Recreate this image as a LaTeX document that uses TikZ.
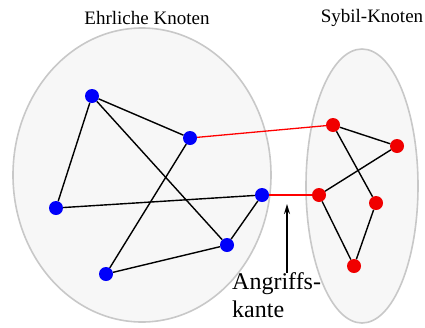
\documentclass[tikz,border=0pt]{standalone}
\usepackage{fontspec}
\setmainfont{Liberation Serif}
\usetikzlibrary{arrows.meta}
\definecolor{ringgray}{RGB}{200,200,200}
\definecolor{fillgray}{RGB}{247,247,247}
\definecolor{hblue}{RGB}{0,0,250}
\definecolor{sred}{RGB}{240,0,0}
\tikzset{
  group/.style={draw=ringgray, line width=1.6pt, fill=fillgray},
  honest/.style={circle, fill=hblue, inner sep=0pt, minimum size=14pt},
  sybil/.style={circle, fill=sred, inner sep=0pt, minimum size=14pt},
  edge/.style={black, line width=1.4pt},
  attack/.style={red, line width=1.3pt},
  lbl/.style={font=\fontsize{19}{22}\selectfont, inner sep=0pt},
}
\begin{document}
\begin{tikzpicture}[x=1pt, y=-1pt]
\useasboundingbox (0,0) rectangle (425,327);
\draw[group] (142,175) ellipse [x radius=129, y radius=147];
\draw[group] (362,186) ellipse [x radius=56, y radius=137];
\node[lbl] (tl) at (147,18) {Ehrliche Knoten};
\node[lbl] (tr) at (372,18) {Sybil-Knoten};
\node[honest] (b1) at (92,96) {};
\node[honest] (b2) at (190,138) {};
\node[honest] (b3) at (56,208) {};
\node[honest] (b4) at (262,195) {};
\node[honest] (b5) at (227,245) {};
\node[honest] (b6) at (106,274) {};
\node[sybil] (r1) at (333,125) {};
\node[sybil] (r2) at (397,146) {};
\node[sybil] (r3) at (319,195) {};
\node[sybil] (r4) at (376,203) {};
\node[sybil] (r5) at (354,266) {};
\draw[edge] (b1) -- (b2);
\draw[edge] (b1) -- (b3);
\draw[edge] (b1) -- (b5);
\draw[edge] (b2) -- (b6);
\draw[edge] (b3) -- (b4);
\draw[edge] (b4) -- (b5);
\draw[edge] (b5) -- (b6);
\draw[attack] (b2) -- (r1);
\draw[attack] (b4) -- (r3);
\draw[edge] (r1) -- (r2);
\draw[edge] (r1) -- (r4);
\draw[edge] (r2) -- (r3);
\draw[edge] (r3) -- (r5);
\draw[edge] (r4) -- (r5);
\coordinate (atip) at (287,204);
\coordinate (abase) at (287,273);
\node[font=\fontsize{24}{28}\selectfont, align=left, anchor=north west, inner sep=0pt] (ak) at (232,272) {Angriffs-\\kante};
\draw[line width=1.5pt, -{Stealth[length=10pt, width=6pt]}] (abase) -- (atip);
\end{tikzpicture}
\end{document}
